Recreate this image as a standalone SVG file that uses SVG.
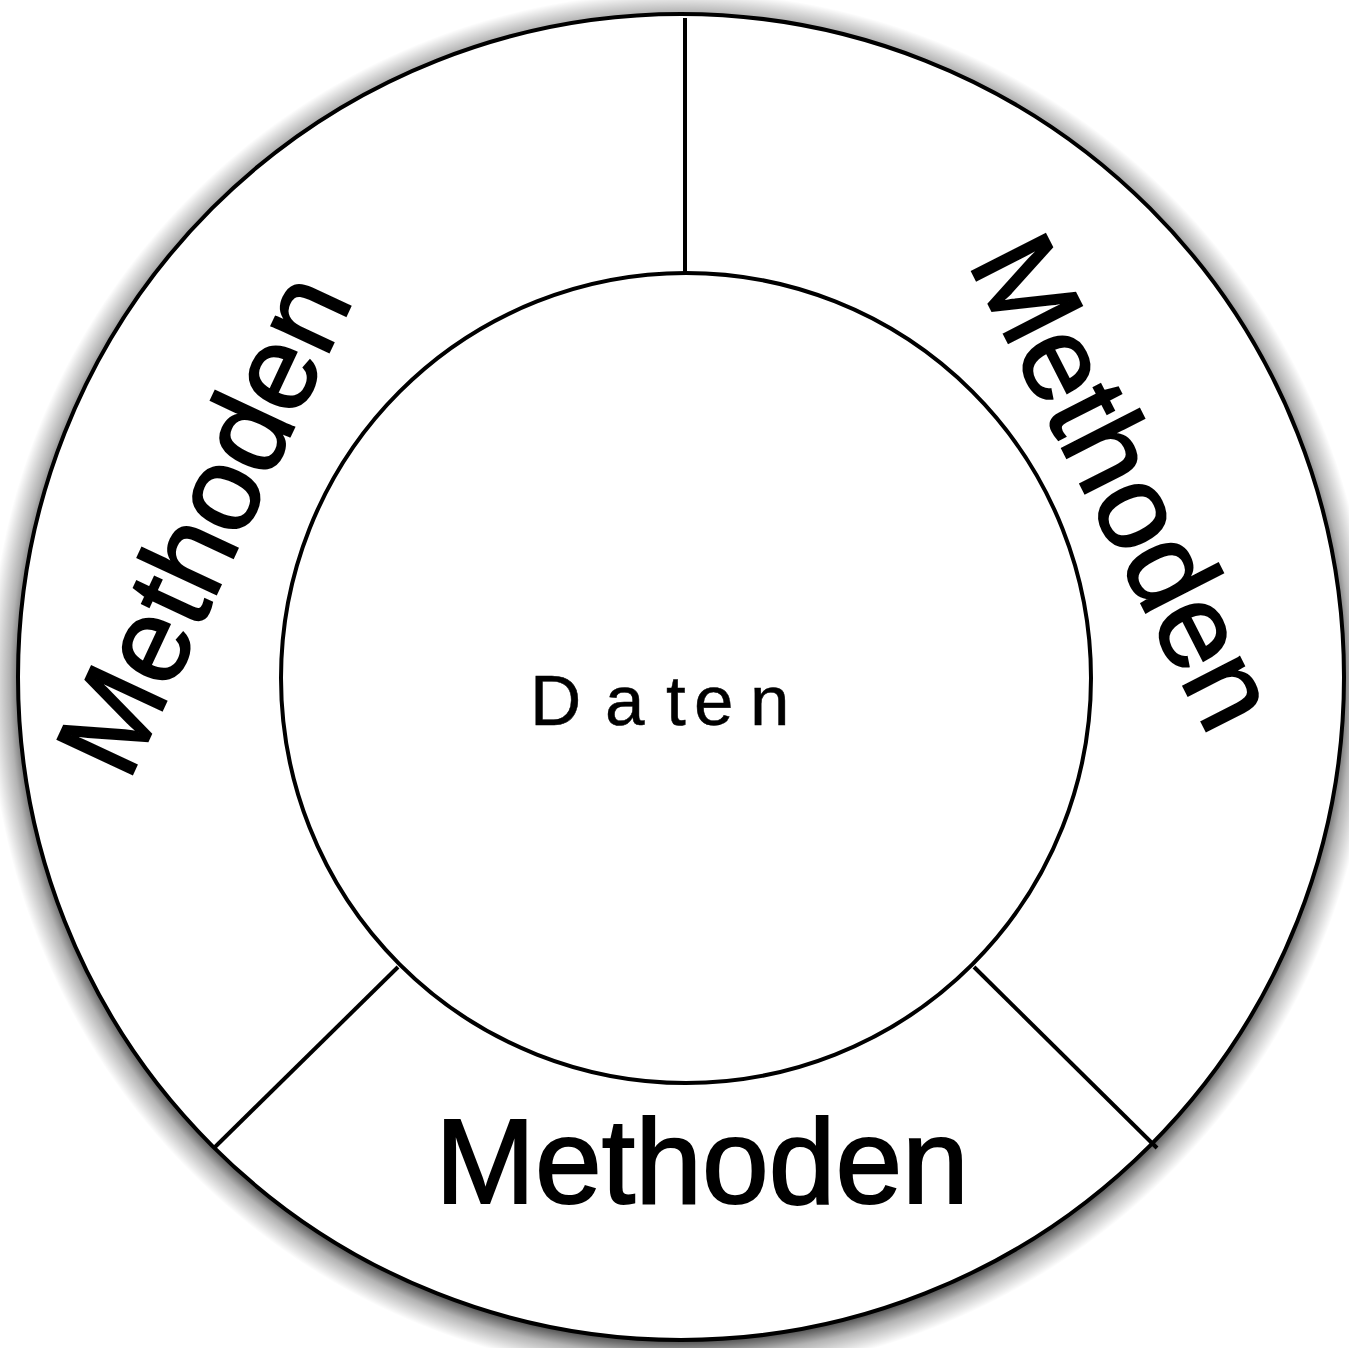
<svg xmlns="http://www.w3.org/2000/svg" width="1349" height="1348" viewBox="0 0 1349 1348">
  <style>
    .ring { fill: #ffffff; stroke: #000000; stroke-width: 4; }
    .conn { stroke: #000000; stroke-width: 4; fill: none; }
    .meth { font-family: "Liberation Sans", Arial, sans-serif; font-size: 120px; fill: #000000; stroke: #000000; stroke-width: 2; text-anchor: middle; }
    .daten { font-family: "Liberation Sans", Arial, sans-serif; font-size: 71px; fill: #000000; stroke: #000000; stroke-width: 0.5; }
  </style>
  <defs>
    <radialGradient id="shade" gradientUnits="userSpaceOnUse" cx="681" cy="684" r="692">
      <stop offset="0.94" stop-color="#000000" stop-opacity="0.85"/>
      <stop offset="0.97" stop-color="#000000" stop-opacity="0.3"/>
      <stop offset="1" stop-color="#000000" stop-opacity="0"/>
    </radialGradient>
  </defs>
  <rect x="0" y="0" width="1349" height="1348" fill="#ffffff"/>
  <g id="outer">
    <circle cx="681" cy="684" r="692" fill="url(#shade)"/>
    <circle class="ring" cx="681" cy="677" r="663"/>
  </g>
  <g id="connectors">
    <line class="conn" x1="685" y1="18" x2="685" y2="274"/>
    <line class="conn" x1="398" y1="967" x2="215" y2="1147"/>
    <line class="conn" x1="974" y1="967" x2="1157" y2="1148"/>
  </g>
  <g id="inner">
    <circle class="ring" cx="686" cy="678" r="405"/>
    <text class="daten" x="530 605 666 694 750" y="725">Daten</text>
  </g>
  <g id="methoden-left">
    <text class="meth" transform="translate(202 523) rotate(-65)" x="0" y="43">Methoden</text>
  </g>
  <g id="methoden-right">
    <text class="meth" transform="translate(1127 481) rotate(63)" x="0" y="43">Methoden</text>
  </g>
  <g id="methoden-bottom">
    <text class="meth" x="702" y="1203">Methoden</text>
  </g>
</svg>
